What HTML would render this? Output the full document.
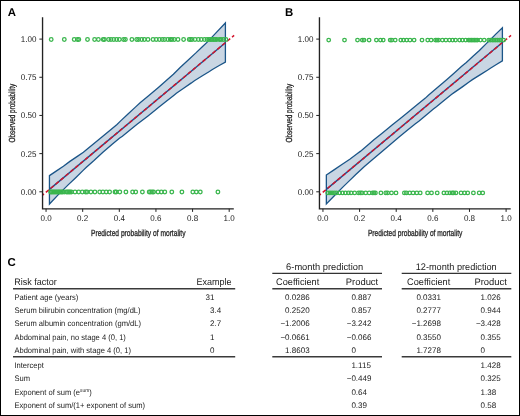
<!DOCTYPE html>
<html><head><meta charset="utf-8"><style>
html,body{margin:0;padding:0;background:#fff;}
body{width:520px;height:416px;overflow:hidden;}
svg{display:block;font-family:"Liberation Sans", sans-serif;will-change:transform;text-rendering:geometricPrecision;}
</style></head><body>
<svg xmlns="http://www.w3.org/2000/svg" width="520" height="416" viewBox="0 0 520 416">
<rect x="0" y="0" width="520" height="416" fill="#fff"/>
<path d="M49.45,175.6 L56.5,170.9 L63.4,166.2 L69.9,161.4 L76.6,156.9 L83.4,152.3 L86.4,149.8 L94,143.6 L101.9,137.1 L109.5,130.7 L117,124.4 L120.4,121.1 L128,114.1 L135.4,107.15 L140.4,102.6 L148,96.3 L155.4,90.1 L158.4,87.4 L166,80.8 L173.4,74.3 L180.4,67.2 L188,60.2 L195.9,52.9 L201.8,47.2 L207.5,41.85 L215.5,33.4 L225.4,23 L225.4,62.15 L218.8,65.8 L212.4,69.5 L209.4,71.5 L202,76 L194.4,80.7 L191.4,82.9 L184,88 L176.4,93.3 L173.4,95.7 L166,101.6 L158.4,107.5 L155.4,110.1 L148,115.9 L140.4,121.85 L137.4,124.1 L130,130 L122.4,136.2 L119.4,138.3 L111.9,144.5 L102.9,152.3 L94,160.6 L86.4,167.3 L83.4,170.1 L75.7,177.7 L68.4,184.6 L58.8,194.15 L49.45,204 Z" fill="#c9d6e3" stroke="#1b5588" stroke-width="1.3" stroke-linejoin="miter"/>
<line x1="49.45" y1="189.37" x2="225.4" y2="42.67" stroke="#1e4f8c" stroke-width="1.4"/>
<line x1="42.55" y1="195.12" x2="234.15" y2="35.38" stroke="#d3132b" stroke-width="1.45" stroke-dasharray="4 2.38" stroke-dashoffset="-4.26"/>
<g fill="none" stroke="#3ab64d" stroke-width="1.3">
<circle cx="51.2" cy="39.5" r="1.8"/>
<circle cx="64.3" cy="39.5" r="1.8"/>
<circle cx="74.2" cy="39.5" r="1.8"/>
<circle cx="77.4" cy="39.5" r="1.8"/>
<circle cx="78.8" cy="39.5" r="1.8"/>
<circle cx="87.5" cy="39.5" r="1.8"/>
<circle cx="94.6" cy="39.5" r="1.8"/>
<circle cx="98.4" cy="39.5" r="1.8"/>
<circle cx="103.2" cy="39.5" r="1.8"/>
<circle cx="104.4" cy="39.5" r="1.8"/>
<circle cx="108.6" cy="39.5" r="1.8"/>
<circle cx="111" cy="39.5" r="1.8"/>
<circle cx="113.8" cy="39.5" r="1.8"/>
<circle cx="116.7" cy="39.5" r="1.8"/>
<circle cx="119.4" cy="39.5" r="1.8"/>
<circle cx="123.6" cy="39.5" r="1.8"/>
<circle cx="125.4" cy="39.5" r="1.8"/>
<circle cx="131.9" cy="39.5" r="1.8"/>
<circle cx="136.7" cy="39.5" r="1.8"/>
<circle cx="138.6" cy="39.5" r="1.8"/>
<circle cx="141.7" cy="39.5" r="1.8"/>
<circle cx="144.4" cy="39.5" r="1.8"/>
<circle cx="148" cy="39.5" r="1.8"/>
<circle cx="153" cy="39.5" r="1.8"/>
<circle cx="156.2" cy="39.5" r="1.8"/>
<circle cx="159.4" cy="39.5" r="1.8"/>
<circle cx="162.3" cy="39.5" r="1.8"/>
<circle cx="164.7" cy="39.5" r="1.8"/>
<circle cx="167.9" cy="39.5" r="1.8"/>
<circle cx="170.3" cy="39.5" r="1.8"/>
<circle cx="172" cy="39.5" r="1.8"/>
<circle cx="174.3" cy="39.5" r="1.8"/>
<circle cx="178" cy="39.5" r="1.8"/>
<circle cx="183.6" cy="39.5" r="1.8"/>
<circle cx="189.2" cy="39.5" r="1.8"/>
<circle cx="190.6" cy="39.5" r="1.8"/>
<circle cx="192" cy="39.5" r="1.8"/>
<circle cx="195" cy="39.5" r="1.8"/>
<circle cx="198.3" cy="39.5" r="1.8"/>
<circle cx="201.2" cy="39.5" r="1.8"/>
<circle cx="204.4" cy="39.5" r="1.8"/>
<circle cx="207" cy="39.5" r="1.8"/>
<circle cx="209" cy="39.5" r="1.8"/>
<circle cx="210.5" cy="39.5" r="1.8"/>
<circle cx="212" cy="39.5" r="1.8"/>
<circle cx="213.6" cy="39.5" r="1.8"/>
<circle cx="215" cy="39.5" r="1.8"/>
<circle cx="216.7" cy="39.5" r="1.8"/>
<circle cx="219.3" cy="39.5" r="1.8"/>
<circle cx="221" cy="39.5" r="1.8"/>
<circle cx="223.2" cy="39.5" r="1.8"/>
<circle cx="225.9" cy="39.5" r="1.8"/>
<circle cx="50.6" cy="192" r="1.8"/>
<circle cx="51.6" cy="192" r="1.8"/>
<circle cx="52.8" cy="192" r="1.8"/>
<circle cx="54" cy="192" r="1.8"/>
<circle cx="55.2" cy="192" r="1.8"/>
<circle cx="56.5" cy="192" r="1.8"/>
<circle cx="57.8" cy="192" r="1.8"/>
<circle cx="59" cy="192" r="1.8"/>
<circle cx="60.2" cy="192" r="1.8"/>
<circle cx="61.5" cy="192" r="1.8"/>
<circle cx="62.5" cy="192" r="1.8"/>
<circle cx="64.2" cy="192" r="1.8"/>
<circle cx="66.3" cy="192" r="1.8"/>
<circle cx="67.5" cy="192" r="1.8"/>
<circle cx="68.8" cy="192" r="1.8"/>
<circle cx="70" cy="192" r="1.8"/>
<circle cx="71.4" cy="192" r="1.8"/>
<circle cx="75" cy="192" r="1.8"/>
<circle cx="78.7" cy="192" r="1.8"/>
<circle cx="82.3" cy="192" r="1.8"/>
<circle cx="85.5" cy="192" r="1.8"/>
<circle cx="87" cy="192" r="1.8"/>
<circle cx="90.9" cy="192" r="1.8"/>
<circle cx="94.9" cy="192" r="1.8"/>
<circle cx="99.7" cy="192" r="1.8"/>
<circle cx="102.9" cy="192" r="1.8"/>
<circle cx="106.2" cy="192" r="1.8"/>
<circle cx="109.6" cy="192" r="1.8"/>
<circle cx="115" cy="192" r="1.8"/>
<circle cx="116.2" cy="192" r="1.8"/>
<circle cx="119.8" cy="192" r="1.8"/>
<circle cx="125.9" cy="192" r="1.8"/>
<circle cx="132.6" cy="192" r="1.8"/>
<circle cx="135.7" cy="192" r="1.8"/>
<circle cx="142.4" cy="192" r="1.8"/>
<circle cx="149.2" cy="192" r="1.8"/>
<circle cx="150.6" cy="192" r="1.8"/>
<circle cx="152.2" cy="192" r="1.8"/>
<circle cx="153.6" cy="192" r="1.8"/>
<circle cx="158" cy="192" r="1.8"/>
<circle cx="161.3" cy="192" r="1.8"/>
<circle cx="164.8" cy="192" r="1.8"/>
<circle cx="171.8" cy="192" r="1.8"/>
<circle cx="181.9" cy="192" r="1.8"/>
<circle cx="192.8" cy="192" r="1.8"/>
<circle cx="196.3" cy="192" r="1.8"/>
<circle cx="200.3" cy="192" r="1.8"/>
<circle cx="217.9" cy="192" r="1.8"/>
</g>
<path d="M42.55,17.2 V208.8 H233.8" fill="none" stroke="#222" stroke-width="1.35"/>
<line x1="39.35" y1="39.1" x2="42.55" y2="39.1" stroke="#222" stroke-width="1"/>
<text transform="translate(36.5,42) scale(0.96,1)" text-anchor="end" font-size="8.4" fill="#1a1a1a">1.00</text>
<line x1="39.35" y1="77.28" x2="42.55" y2="77.28" stroke="#222" stroke-width="1"/>
<text transform="translate(36.5,80.18) scale(0.96,1)" text-anchor="end" font-size="8.4" fill="#1a1a1a">0.75</text>
<line x1="39.35" y1="115.45" x2="42.55" y2="115.45" stroke="#222" stroke-width="1"/>
<text transform="translate(36.5,118.35) scale(0.96,1)" text-anchor="end" font-size="8.4" fill="#1a1a1a">0.50</text>
<line x1="39.35" y1="153.62" x2="42.55" y2="153.62" stroke="#222" stroke-width="1"/>
<text transform="translate(36.5,156.53) scale(0.96,1)" text-anchor="end" font-size="8.4" fill="#1a1a1a">0.25</text>
<line x1="39.35" y1="191.8" x2="42.55" y2="191.8" stroke="#222" stroke-width="1"/>
<text transform="translate(36.5,194.7) scale(0.96,1)" text-anchor="end" font-size="8.4" fill="#1a1a1a">0.00</text>
<line x1="46.05" y1="208.8" x2="46.05" y2="211.9" stroke="#222" stroke-width="1"/>
<text transform="translate(46.05,220.75) scale(0.96,1)" text-anchor="middle" font-size="8.4" fill="#1a1a1a">0.0</text>
<line x1="82.68" y1="208.8" x2="82.68" y2="211.9" stroke="#222" stroke-width="1"/>
<text transform="translate(82.68,220.75) scale(0.96,1)" text-anchor="middle" font-size="8.4" fill="#1a1a1a">0.2</text>
<line x1="119.31" y1="208.8" x2="119.31" y2="211.9" stroke="#222" stroke-width="1"/>
<text transform="translate(119.31,220.75) scale(0.96,1)" text-anchor="middle" font-size="8.4" fill="#1a1a1a">0.4</text>
<line x1="155.94" y1="208.8" x2="155.94" y2="211.9" stroke="#222" stroke-width="1"/>
<text transform="translate(155.94,220.75) scale(0.96,1)" text-anchor="middle" font-size="8.4" fill="#1a1a1a">0.6</text>
<line x1="192.57" y1="208.8" x2="192.57" y2="211.9" stroke="#222" stroke-width="1"/>
<text transform="translate(192.57,220.75) scale(0.96,1)" text-anchor="middle" font-size="8.4" fill="#1a1a1a">0.8</text>
<line x1="229.2" y1="208.8" x2="229.2" y2="211.9" stroke="#222" stroke-width="1"/>
<text transform="translate(229.2,220.75) scale(0.96,1)" text-anchor="middle" font-size="8.4" fill="#1a1a1a">1.0</text>
<text x="91" y="236.1" font-size="8.8" fill="#1a1a1a" stroke="#2a2a2a" stroke-width="0.3" textLength="94.5" lengthAdjust="spacingAndGlyphs">Predicted probability of mortality</text>
<text transform="translate(14.6,142.5) rotate(-90)" font-size="8.8" fill="#1a1a1a" stroke="#2a2a2a" stroke-width="0.3" textLength="58.8" lengthAdjust="spacingAndGlyphs">Observed probability</text>
<text x="7.8" y="15.9" font-size="11.4" font-weight="bold" fill="#000">A</text>
<path d="M326.35,175 L334,169.9 L341.9,164.5 L349.8,159.2 L357.4,153.5 L360.3,151.4 L367,145.7 L373.9,139.8 L381.5,133.7 L389.4,127.3 L392.4,124.8 L400,118.7 L407.4,112.7 L410.4,110.2 L418,104 L425.4,98.1 L428.4,95.2 L436,88.8 L443.4,82.5 L447.2,79.2 L454,73.2 L461.4,66.5 L466.3,62.4 L473,56.3 L479.4,50.5 L486.5,43.4 L491,39 L495.8,34.15 L502.4,27.7 L502.4,60.9 L496,64.8 L490.4,68.2 L487.4,70.2 L480,74.9 L472.4,79.65 L469.4,81.85 L462,87.1 L454.4,92.4 L451.4,94.5 L444,100.6 L436.4,106.8 L433.4,109.1 L426,115.2 L418.8,121.2 L415.4,123.85 L407,130.6 L399.1,136.9 L390,144.7 L380.9,152.4 L372,160.1 L364.4,166.6 L355.8,174.5 L349,181.1 L342.3,187.6 L334.8,195.3 L326.35,203.9 Z" fill="#c9d6e3" stroke="#1b5588" stroke-width="1.3" stroke-linejoin="miter"/>
<line x1="326.35" y1="189.37" x2="502.4" y2="42.58" stroke="#1e4f8c" stroke-width="1.4"/>
<line x1="319.45" y1="195.12" x2="511.05" y2="35.38" stroke="#d3132b" stroke-width="1.45" stroke-dasharray="4 2.38" stroke-dashoffset="-4.26"/>
<g fill="none" stroke="#3ab64d" stroke-width="1.3">
<circle cx="328.7" cy="40.1" r="1.8"/>
<circle cx="344.5" cy="40.1" r="1.8"/>
<circle cx="357.5" cy="40.1" r="1.8"/>
<circle cx="362.3" cy="40.1" r="1.8"/>
<circle cx="364" cy="40.1" r="1.8"/>
<circle cx="369.1" cy="40.1" r="1.8"/>
<circle cx="376.4" cy="40.1" r="1.8"/>
<circle cx="380.5" cy="40.1" r="1.8"/>
<circle cx="383.2" cy="40.1" r="1.8"/>
<circle cx="390.2" cy="40.1" r="1.8"/>
<circle cx="391.8" cy="40.1" r="1.8"/>
<circle cx="395.2" cy="40.1" r="1.8"/>
<circle cx="400.8" cy="40.1" r="1.8"/>
<circle cx="403.5" cy="40.1" r="1.8"/>
<circle cx="406.7" cy="40.1" r="1.8"/>
<circle cx="410" cy="40.1" r="1.8"/>
<circle cx="414.1" cy="40.1" r="1.8"/>
<circle cx="422" cy="40.1" r="1.8"/>
<circle cx="427.7" cy="40.1" r="1.8"/>
<circle cx="431.1" cy="40.1" r="1.8"/>
<circle cx="435.5" cy="40.1" r="1.8"/>
<circle cx="437" cy="40.1" r="1.8"/>
<circle cx="438.6" cy="40.1" r="1.8"/>
<circle cx="442.4" cy="40.1" r="1.8"/>
<circle cx="445.9" cy="40.1" r="1.8"/>
<circle cx="449.5" cy="40.1" r="1.8"/>
<circle cx="452.6" cy="40.1" r="1.8"/>
<circle cx="455.5" cy="40.1" r="1.8"/>
<circle cx="459.6" cy="40.1" r="1.8"/>
<circle cx="462.4" cy="40.1" r="1.8"/>
<circle cx="465.7" cy="40.1" r="1.8"/>
<circle cx="468.5" cy="40.1" r="1.8"/>
<circle cx="470" cy="40.1" r="1.8"/>
<circle cx="471.5" cy="40.1" r="1.8"/>
<circle cx="473" cy="40.1" r="1.8"/>
<circle cx="474.5" cy="40.1" r="1.8"/>
<circle cx="476" cy="40.1" r="1.8"/>
<circle cx="477.5" cy="40.1" r="1.8"/>
<circle cx="480.4" cy="40.1" r="1.8"/>
<circle cx="484.2" cy="40.1" r="1.8"/>
<circle cx="488.8" cy="40.1" r="1.8"/>
<circle cx="490.5" cy="40.1" r="1.8"/>
<circle cx="492.3" cy="40.1" r="1.8"/>
<circle cx="494" cy="40.1" r="1.8"/>
<circle cx="495.8" cy="40.1" r="1.8"/>
<circle cx="497.5" cy="40.1" r="1.8"/>
<circle cx="499.3" cy="40.1" r="1.8"/>
<circle cx="500.8" cy="40.1" r="1.8"/>
<circle cx="503.6" cy="40.1" r="1.8"/>
<circle cx="327.8" cy="192.9" r="1.8"/>
<circle cx="330" cy="192.9" r="1.8"/>
<circle cx="332.1" cy="192.9" r="1.8"/>
<circle cx="334.3" cy="192.9" r="1.8"/>
<circle cx="336.5" cy="192.9" r="1.8"/>
<circle cx="339.6" cy="192.9" r="1.8"/>
<circle cx="342.5" cy="192.9" r="1.8"/>
<circle cx="345.4" cy="192.9" r="1.8"/>
<circle cx="348.4" cy="192.9" r="1.8"/>
<circle cx="351" cy="192.9" r="1.8"/>
<circle cx="354.6" cy="192.9" r="1.8"/>
<circle cx="358.6" cy="192.9" r="1.8"/>
<circle cx="360.4" cy="192.9" r="1.8"/>
<circle cx="362" cy="192.9" r="1.8"/>
<circle cx="365.7" cy="192.9" r="1.8"/>
<circle cx="369.2" cy="192.9" r="1.8"/>
<circle cx="372.5" cy="192.9" r="1.8"/>
<circle cx="374" cy="192.9" r="1.8"/>
<circle cx="375.4" cy="192.9" r="1.8"/>
<circle cx="380.9" cy="192.9" r="1.8"/>
<circle cx="385.8" cy="192.9" r="1.8"/>
<circle cx="387.6" cy="192.9" r="1.8"/>
<circle cx="391.5" cy="192.9" r="1.8"/>
<circle cx="396" cy="192.9" r="1.8"/>
<circle cx="404.4" cy="192.9" r="1.8"/>
<circle cx="406.4" cy="192.9" r="1.8"/>
<circle cx="409.7" cy="192.9" r="1.8"/>
<circle cx="413.1" cy="192.9" r="1.8"/>
<circle cx="416.8" cy="192.9" r="1.8"/>
<circle cx="420.2" cy="192.9" r="1.8"/>
<circle cx="427.6" cy="192.9" r="1.8"/>
<circle cx="431.5" cy="192.9" r="1.8"/>
<circle cx="437.2" cy="192.9" r="1.8"/>
<circle cx="443.9" cy="192.9" r="1.8"/>
<circle cx="447" cy="192.9" r="1.8"/>
<circle cx="449.9" cy="192.9" r="1.8"/>
<circle cx="452.2" cy="192.9" r="1.8"/>
<circle cx="453.6" cy="192.9" r="1.8"/>
<circle cx="455.9" cy="192.9" r="1.8"/>
<circle cx="461" cy="192.9" r="1.8"/>
<circle cx="464.5" cy="192.9" r="1.8"/>
<circle cx="467.7" cy="192.9" r="1.8"/>
<circle cx="473.4" cy="192.9" r="1.8"/>
<circle cx="479.2" cy="192.9" r="1.8"/>
<circle cx="482.7" cy="192.9" r="1.8"/>
</g>
<path d="M319.45,17.2 V208.8 H510.7" fill="none" stroke="#222" stroke-width="1.35"/>
<line x1="316.25" y1="39.1" x2="319.45" y2="39.1" stroke="#222" stroke-width="1"/>
<text transform="translate(313.4,42) scale(0.96,1)" text-anchor="end" font-size="8.4" fill="#1a1a1a">1.00</text>
<line x1="316.25" y1="77.28" x2="319.45" y2="77.28" stroke="#222" stroke-width="1"/>
<text transform="translate(313.4,80.18) scale(0.96,1)" text-anchor="end" font-size="8.4" fill="#1a1a1a">0.75</text>
<line x1="316.25" y1="115.45" x2="319.45" y2="115.45" stroke="#222" stroke-width="1"/>
<text transform="translate(313.4,118.35) scale(0.96,1)" text-anchor="end" font-size="8.4" fill="#1a1a1a">0.50</text>
<line x1="316.25" y1="153.62" x2="319.45" y2="153.62" stroke="#222" stroke-width="1"/>
<text transform="translate(313.4,156.53) scale(0.96,1)" text-anchor="end" font-size="8.4" fill="#1a1a1a">0.25</text>
<line x1="316.25" y1="191.8" x2="319.45" y2="191.8" stroke="#222" stroke-width="1"/>
<text transform="translate(313.4,194.7) scale(0.96,1)" text-anchor="end" font-size="8.4" fill="#1a1a1a">0.00</text>
<line x1="322.95" y1="208.8" x2="322.95" y2="211.9" stroke="#222" stroke-width="1"/>
<text transform="translate(322.95,220.75) scale(0.96,1)" text-anchor="middle" font-size="8.4" fill="#1a1a1a">0.0</text>
<line x1="359.58" y1="208.8" x2="359.58" y2="211.9" stroke="#222" stroke-width="1"/>
<text transform="translate(359.58,220.75) scale(0.96,1)" text-anchor="middle" font-size="8.4" fill="#1a1a1a">0.2</text>
<line x1="396.21" y1="208.8" x2="396.21" y2="211.9" stroke="#222" stroke-width="1"/>
<text transform="translate(396.21,220.75) scale(0.96,1)" text-anchor="middle" font-size="8.4" fill="#1a1a1a">0.4</text>
<line x1="432.84" y1="208.8" x2="432.84" y2="211.9" stroke="#222" stroke-width="1"/>
<text transform="translate(432.84,220.75) scale(0.96,1)" text-anchor="middle" font-size="8.4" fill="#1a1a1a">0.6</text>
<line x1="469.47" y1="208.8" x2="469.47" y2="211.9" stroke="#222" stroke-width="1"/>
<text transform="translate(469.47,220.75) scale(0.96,1)" text-anchor="middle" font-size="8.4" fill="#1a1a1a">0.8</text>
<line x1="506.1" y1="208.8" x2="506.1" y2="211.9" stroke="#222" stroke-width="1"/>
<text transform="translate(506.1,220.75) scale(0.96,1)" text-anchor="middle" font-size="8.4" fill="#1a1a1a">1.0</text>
<text x="367.9" y="236.1" font-size="8.8" fill="#1a1a1a" stroke="#2a2a2a" stroke-width="0.3" textLength="94.5" lengthAdjust="spacingAndGlyphs">Predicted probability of mortality</text>
<text transform="translate(291.5,142.5) rotate(-90)" font-size="8.8" fill="#1a1a1a" stroke="#2a2a2a" stroke-width="0.3" textLength="58.8" lengthAdjust="spacingAndGlyphs">Observed probability</text>
<text x="284.9" y="15.9" font-size="11.4" font-weight="bold" fill="#000">B</text>
<text x="7.6" y="265.6" font-size="11.4" font-weight="bold" fill="#000">C</text>
<text transform="translate(14.2,285) scale(0.947,1)" font-size="9.5" fill="#1a1a1a">Risk factor</text>
<text transform="translate(231.6,285) scale(0.947,1)" font-size="9.5" text-anchor="end" fill="#1a1a1a">Example</text>
<text transform="translate(324.6,269.8) scale(0.978,1)" font-size="9.5" text-anchor="middle" fill="#1a1a1a">6-month prediction</text>
<text transform="translate(456.2,269.8) scale(0.965,1)" font-size="9.5" text-anchor="middle" fill="#1a1a1a">12-month prediction</text>
<text transform="translate(276.1,285) scale(0.965,1)" font-size="9.5" fill="#1a1a1a">Coefficient</text>
<text transform="translate(407.1,285) scale(0.965,1)" font-size="9.5" fill="#1a1a1a">Coefficient</text>
<text transform="translate(378.2,285) scale(0.99,1)" font-size="9.5" text-anchor="end" fill="#1a1a1a">Product</text>
<text transform="translate(506.8,285) scale(0.99,1)" font-size="9.5" text-anchor="end" fill="#1a1a1a">Product</text>
<line x1="13" y1="288.7" x2="235.2" y2="288.7" stroke="#3a3a3a" stroke-width="1.6"/>
<line x1="272.3" y1="288.7" x2="382" y2="288.7" stroke="#3a3a3a" stroke-width="1.6"/>
<line x1="401.7" y1="288.7" x2="511.3" y2="288.7" stroke="#3a3a3a" stroke-width="1.6"/>
<line x1="13" y1="356.7" x2="235.2" y2="356.7" stroke="#3a3a3a" stroke-width="1.6"/>
<line x1="272.3" y1="356.7" x2="382" y2="356.7" stroke="#3a3a3a" stroke-width="1.6"/>
<line x1="401.7" y1="356.7" x2="511.3" y2="356.7" stroke="#3a3a3a" stroke-width="1.6"/>
<line x1="272.3" y1="273.3" x2="382" y2="273.3" stroke="#333" stroke-width="1.3"/>
<line x1="401.7" y1="273.3" x2="511.3" y2="273.3" stroke="#333" stroke-width="1.3"/>
<text transform="translate(14.4,299.8) scale(0.935,1)" font-size="8.1" fill="#1a1a1a">Patient age (years)</text>
<text transform="translate(205.54,299.8) scale(0.99,1)" font-size="8.1" fill="#1a1a1a">31</text>
<text transform="translate(285.1,299.8) scale(0.99,1)" font-size="8.1" fill="#1a1a1a">0.0286</text>
<text transform="translate(351.4,299.8) scale(0.99,1)" font-size="8.1" fill="#1a1a1a">0.887</text>
<text transform="translate(416.4,299.8) scale(0.99,1)" font-size="8.1" fill="#1a1a1a">0.0331</text>
<text transform="translate(480.6,299.8) scale(0.99,1)" font-size="8.1" fill="#1a1a1a">1.026</text>
<text transform="translate(14.4,313.1) scale(0.935,1)" font-size="8.1" fill="#1a1a1a">Serum bilirubin concentration (mg/dL)</text>
<text transform="translate(210,313.1) scale(0.99,1)" font-size="8.1" fill="#1a1a1a">3.4</text>
<text transform="translate(285.1,313.1) scale(0.99,1)" font-size="8.1" fill="#1a1a1a">0.2520</text>
<text transform="translate(351.4,313.1) scale(0.99,1)" font-size="8.1" fill="#1a1a1a">0.857</text>
<text transform="translate(416.4,313.1) scale(0.99,1)" font-size="8.1" fill="#1a1a1a">0.2777</text>
<text transform="translate(480.6,313.1) scale(0.99,1)" font-size="8.1" fill="#1a1a1a">0.944</text>
<text transform="translate(14.4,326.45) scale(0.935,1)" font-size="8.1" fill="#1a1a1a">Serum albumin concentration (gm/dL)</text>
<text transform="translate(210,326.45) scale(0.99,1)" font-size="8.1" fill="#1a1a1a">2.7</text>
<text transform="translate(280.42,326.45) scale(0.99,1)" font-size="8.1" fill="#1a1a1a">−1.2006</text>
<text transform="translate(346.72,326.45) scale(0.99,1)" font-size="8.1" fill="#1a1a1a">−3.242</text>
<text transform="translate(411.72,326.45) scale(0.99,1)" font-size="8.1" fill="#1a1a1a">−1.2698</text>
<text transform="translate(475.92,326.45) scale(0.99,1)" font-size="8.1" fill="#1a1a1a">−3.428</text>
<text transform="translate(14.4,339.75) scale(0.935,1)" font-size="8.1" fill="#1a1a1a">Abdominal pain, no stage 4 (0, 1)</text>
<text transform="translate(210,339.75) scale(0.99,1)" font-size="8.1" fill="#1a1a1a">1</text>
<text transform="translate(280.42,339.75) scale(0.99,1)" font-size="8.1" fill="#1a1a1a">−0.0661</text>
<text transform="translate(346.72,339.75) scale(0.99,1)" font-size="8.1" fill="#1a1a1a">−0.066</text>
<text transform="translate(416.4,339.75) scale(0.99,1)" font-size="8.1" fill="#1a1a1a">0.3550</text>
<text transform="translate(480.6,339.75) scale(0.99,1)" font-size="8.1" fill="#1a1a1a">0.355</text>
<text transform="translate(14.4,353) scale(0.935,1)" font-size="8.1" fill="#1a1a1a">Abdominal pain, with stage 4 (0, 1)</text>
<text transform="translate(210,353) scale(0.99,1)" font-size="8.1" fill="#1a1a1a">0</text>
<text transform="translate(285.1,353) scale(0.99,1)" font-size="8.1" fill="#1a1a1a">1.8603</text>
<text transform="translate(351.4,353) scale(0.99,1)" font-size="8.1" fill="#1a1a1a">0</text>
<text transform="translate(416.4,353) scale(0.99,1)" font-size="8.1" fill="#1a1a1a">1.7278</text>
<text transform="translate(480.6,353) scale(0.99,1)" font-size="8.1" fill="#1a1a1a">0</text>
<text transform="translate(14.4,367.8) scale(0.935,1)" font-size="8.1" fill="#1a1a1a">Intercept</text>
<text transform="translate(351.4,367.8) scale(0.99,1)" font-size="8.1" fill="#1a1a1a">1.115</text>
<text transform="translate(480.6,367.8) scale(0.99,1)" font-size="8.1" fill="#1a1a1a">1.428</text>
<text transform="translate(14.4,381) scale(0.935,1)" font-size="8.1" fill="#1a1a1a">Sum</text>
<text transform="translate(346.72,381) scale(0.99,1)" font-size="8.1" fill="#1a1a1a">−0.449</text>
<text transform="translate(480.6,381) scale(0.99,1)" font-size="8.1" fill="#1a1a1a">0.325</text>
<text transform="translate(14.4,394.5) scale(0.935,1)" font-size="8.1" fill="#1a1a1a">Exponent of sum (e<tspan font-size="5.2" dy="-2.7">sum</tspan><tspan dy="2.7">)</tspan></text>
<text transform="translate(351.4,394.5) scale(0.99,1)" font-size="8.1" fill="#1a1a1a">0.64</text>
<text transform="translate(480.6,394.5) scale(0.99,1)" font-size="8.1" fill="#1a1a1a">1.38</text>
<text transform="translate(14.4,407.9) scale(0.935,1)" font-size="8.1" fill="#1a1a1a">Exponent of sum/(1+ exponent of sum)</text>
<text transform="translate(351.4,407.9) scale(0.99,1)" font-size="8.1" fill="#1a1a1a">0.39</text>
<text transform="translate(480.6,407.9) scale(0.99,1)" font-size="8.1" fill="#1a1a1a">0.58</text>
<rect x="0.5" y="0.5" width="519" height="415" fill="none" stroke="#000" stroke-width="1"/>
</svg>
</body></html>
